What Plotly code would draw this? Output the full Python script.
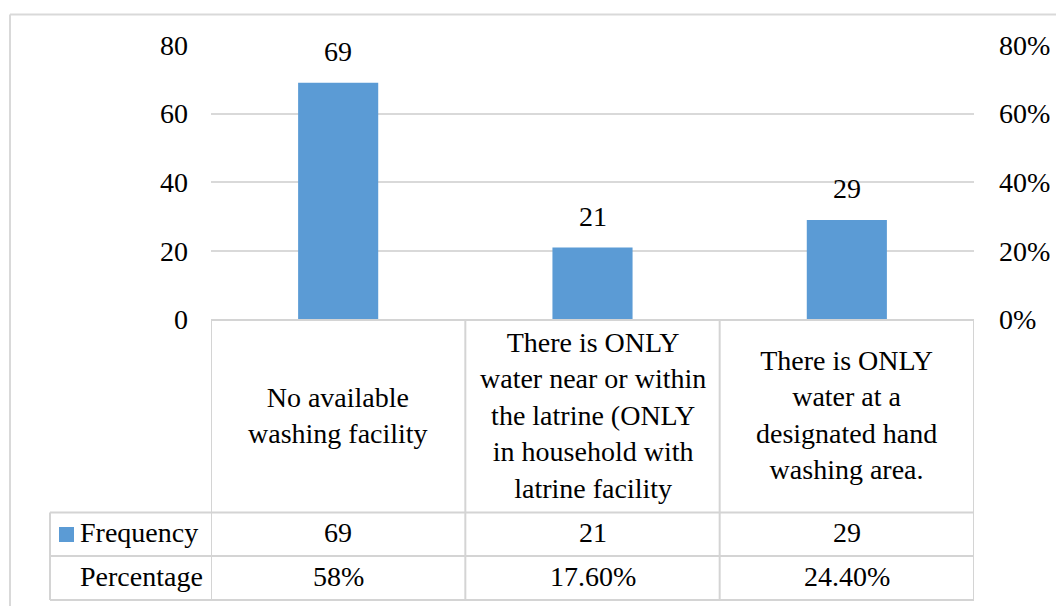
import plotly.graph_objects as go

# ---- data ----
categories = [
    "No available<br>washing facility",
    "There is ONLY<br>water near or within<br>the latrine (ONLY<br>in household with<br>latrine facility",
    "There is ONLY<br>water at a<br>designated hand<br>washing area.",
]
frequency = [69, 21, 29]
percentage_labels = ["58%", "17.60%", "24.40%"]
percentage_values = [0.58, 0.176, 0.244]
left_ticks = [0, 20, 40, 60, 80]
right_ticks = [0, 0.2, 0.4, 0.6, 0.8]
row_names = ["Frequency", "Percentage"]

W, H = 1056, 606
FONT = "Liberation Serif"
FS = 28
BAR = "#5B9BD5"
GRID = "#D9D9D9"
LINE = "#D4D4D4"

def px_x(p):
    return p / W

def px_y(p):
    return 1 - p / H

x_idx = list(range(len(categories)))

fig = go.Figure()
fig.add_trace(go.Bar(
    x=x_idx, y=frequency, width=0.315, marker=dict(color=BAR, line=dict(width=0)),
    hoverinfo="skip", showlegend=False,
))
fig.add_trace(go.Scatter(
    x=x_idx, y=percentage_values, yaxis="y2", mode="markers",
    marker=dict(opacity=0), hoverinfo="skip", showlegend=False,
))

# outer chart border
fig.add_shape(type="line", xref="paper", yref="paper", x0=px_x(10), x1=1.01,
              y0=px_y(14.5), y1=px_y(14.5), line=dict(color=GRID, width=2))
fig.add_shape(type="line", xref="paper", yref="paper", x0=px_x(10), x1=px_x(10),
              y0=px_y(14.5), y1=-0.01, line=dict(color=GRID, width=2))

# table lines
top_px, hdr_px, r1_px, bot_px = 320, 512.5, 556, 600
tbl_left_px = 50
n = len(categories)
bounds = [i - 0.5 for i in range(n + 1)]
for b in bounds:
    fig.add_shape(type="line", xref="x", yref="paper", x0=b, x1=b,
                  y0=px_y(top_px), y1=px_y(bot_px), line=dict(color=LINE, width=2))
fig.add_shape(type="line", xref="paper", yref="paper", x0=px_x(tbl_left_px), x1=px_x(tbl_left_px),
              y0=px_y(hdr_px), y1=px_y(bot_px), line=dict(color=LINE, width=2))
fig.add_shape(type="line", xref="x", yref="paper", x0=bounds[0], x1=bounds[-1],
              y0=px_y(top_px), y1=px_y(top_px), line=dict(color=LINE, width=2))
for yy in (hdr_px, r1_px, bot_px):
    fig.add_shape(type="line", xref="paper", yref="paper", x0=px_x(tbl_left_px), x1=px_x(974),
                  y0=px_y(yy), y1=px_y(yy), line=dict(color=LINE, width=2))
# legend key
fig.add_shape(type="rect", xref="paper", yref="paper", x0=px_x(59), x1=px_x(74),
              y0=px_y(527), y1=px_y(542), fillcolor=BAR, line=dict(width=0))

def tf():
    return dict(family=FONT, size=FS, color="black")

for i, v in enumerate(frequency):
    fig.add_annotation(x=i, y=v, xref="x", yref="y", text=str(v), showarrow=False,
                       yanchor="middle", yshift=31, font=tf())
for i, c in enumerate(categories):
    fig.add_annotation(x=i, y=px_y((top_px + hdr_px) / 2), xref="x", yref="paper", text=c,
                       showarrow=False, yanchor="middle", xanchor="center", yshift=1, font=tf())
    fig.add_annotation(x=i, y=px_y((hdr_px + r1_px) / 2), xref="x", yref="paper",
                       text=str(frequency[i]), showarrow=False, yanchor="middle", yshift=2, font=tf())
    fig.add_annotation(x=i, y=px_y((r1_px + bot_px) / 2), xref="x", yref="paper",
                       text=percentage_labels[i], showarrow=False, yanchor="middle", yshift=2, font=tf())
for j, name in enumerate(row_names):
    yc = (hdr_px + r1_px) / 2 if j == 0 else (r1_px + bot_px) / 2
    fig.add_annotation(x=px_x(78), y=px_y(yc), xref="paper", yref="paper", text=name,
                       showarrow=False, xanchor="left", yanchor="middle", yshift=2, font=tf())

fig.update_layout(
    template="none",
    width=W, height=H, margin=dict(l=0, r=0, t=0, b=0, pad=0, autoexpand=False),
    paper_bgcolor="white", plot_bgcolor="white",
    showlegend=False,
    xaxis=dict(domain=[px_x(211), px_x(974)], range=[-0.5, n - 0.5], showticklabels=False,
               showgrid=False, zeroline=False, showline=False, fixedrange=True, automargin=False),
    yaxis=dict(domain=[px_y(319.5), px_y(45)], range=[0, 80], tickvals=left_ticks,
               showgrid=True, gridcolor=GRID, gridwidth=2, zeroline=False, showline=False,
               ticks="", ticklabelstandoff=22, tickfont=tf(), automargin=False),
    yaxis2=dict(overlaying="y", side="right", range=[0, 0.8], tickvals=right_ticks,
                tickformat=".0%", showgrid=False, zeroline=False, showline=False,
                ticks="", ticklabelstandoff=24, tickfont=tf(), automargin=False),
)

fig.write_html("out.html")
